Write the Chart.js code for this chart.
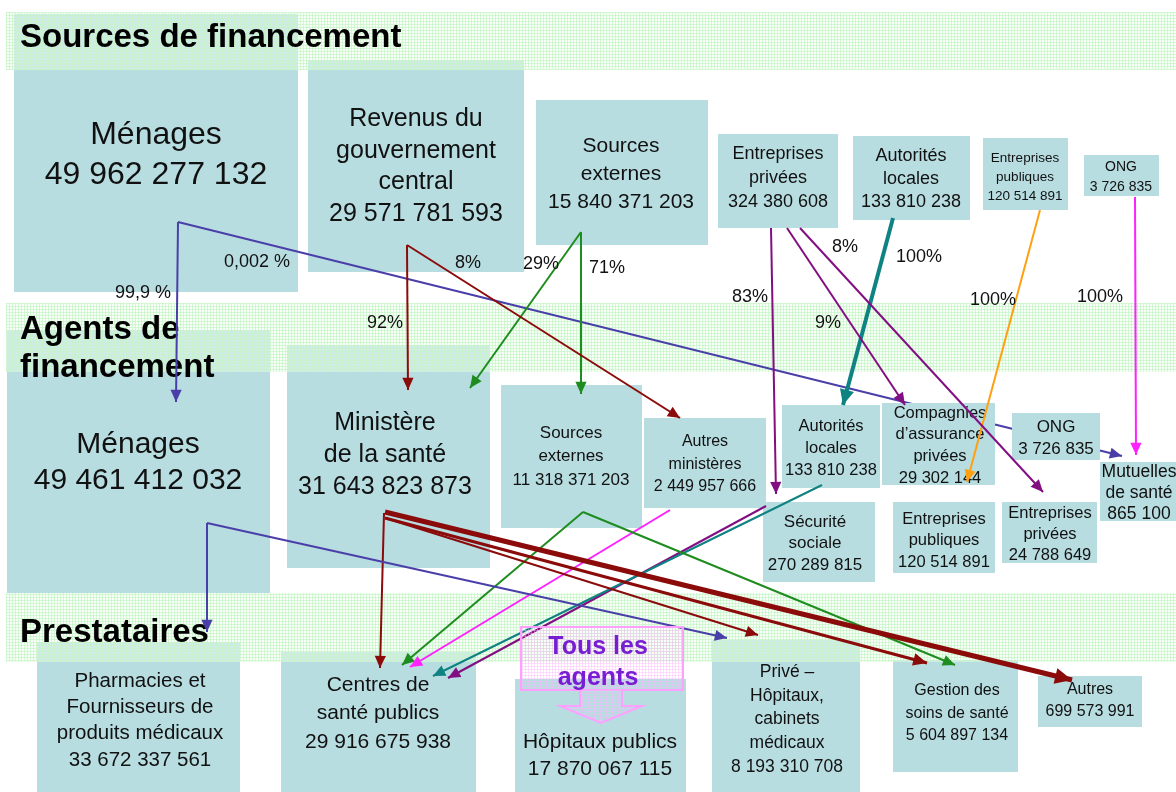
<!DOCTYPE html>
<html>
<head>
<meta charset="utf-8">
<script src="https://cdn.jsdelivr.net/npm/chart.js@4.4.1/dist/chart.umd.min.js"></script>
<style>
html, body { margin: 0; padding: 0; background: #fff; }
#wrap { width: 1176px; height: 792px; position: relative; }
</style>
</head>
<body>
<div id="wrap"><canvas id="flowChart"></canvas></div>
<script>
// Sources de financement
var sourceIds = ['menSrc', 'gov', 'extSrc', 'entPrivSrc', 'autLocSrc', 'entPubSrc', 'ongSrc'];
var sourceNames = [['Ménages'], ['Revenus du', 'gouvernement', 'central'], ['Sources', 'externes'],
  ['Entreprises', 'privées'], ['Autorités', 'locales'], ['Entreprises', 'publiques'], ['ONG']];
var sourceValues = [49962277132, 29571781593, 15840371203, 324380608, 133810238, 120514891, 3726835];

// Agents de financement
var agentIds = ['menAg', 'minSante', 'extAg', 'autMin', 'autLocAg', 'secSoc', 'compAss', 'ongAg', 'mutuelles', 'entPubAg', 'entPrivAg'];
var agentNames = [['Ménages'], ['Ministère', 'de la santé'], ['Sources', 'externes'], ['Autres', 'ministères'],
  ['Autorités', 'locales'], ['Sécurité', 'sociale'], ['Compagnies', 'd’assurance', 'privées'], ['ONG'],
  ['Mutuelles', 'de santé'], ['Entreprises', 'publiques'], ['Entreprises', 'privées']];
var agentValues = [49461412032, 31643823873, 11318371203, 2449957666, 133810238, 270289815, 29302144, 3726835, 865100, 120514891, 24788649];

// Prestataires
var providerIds = ['pharm', 'centres', 'hopPub', 'prive', 'gestion', 'autres'];
var providerNames = [['Pharmacies et', 'Fournisseurs de', 'produits médicaux'], ['Centres de', 'santé publics'],
  ['Hôpitaux publics'], ['Privé –', 'Hôpitaux,', 'cabinets', 'médicaux'], ['Gestion des', 'soins de santé'], ['Autres']];
var providerValues = [33672337561, 29916675938, 17870067115, 8193310708, 5604897134, 699573991];

// Flux
var flowFrom = ['menSrc', 'menSrc', 'gov', 'gov', 'extSrc', 'extSrc', 'entPrivSrc', 'entPrivSrc', 'entPrivSrc', 'autLocSrc', 'entPubSrc', 'ongSrc',
  'menAg', 'menAg', 'minSante', 'minSante', 'minSante', 'minSante', 'extAg', 'extAg', 'autMin', 'autLocAg', 'secSoc'];
var flowTo = ['menAg', 'mutuelles', 'minSante', 'autMin', 'minSante', 'extAg', 'secSoc', 'compAss', 'entPrivAg', 'autLocAg', 'entPubAg', 'mutuelles',
  'pharm', 'prive', 'centres', 'prive', 'gestion', 'autres', 'centres', 'gestion', 'centres', 'centres', 'centres'];
var flowLabels = ['99,9 %', '0,002 %', '92%', '8%', '29%', '71%', '83%', '9%', '8%', '100%', '100%', '100%',
  '', '', '', '', '', '', '', '', '', '', ''];

var rowTitles = [['Sources de financement'], ['Agents de', 'financement'], ['Prestataires']];
var allAgentsNote = ['Tous les', 'agents'];

// ---- mise en page ----
// box: x0, y0, x1, y1, text centre x, first line y, line height, font size
var nodeLayout = {
  menSrc:     [14, 14, 298, 292, 156, 135, 40, 32],
  gov:        [308, 60, 524, 272, 416, 119, 31.7, 25],
  extSrc:     [536, 100, 708, 245, 621, 146, 28, 21],
  entPrivSrc: [718, 134, 838, 228, 778, 154, 24, 18],
  autLocSrc:  [853, 136, 970, 220, 911, 156, 23, 18],
  entPubSrc:  [983, 138, 1068, 210, 1025, 158, 19, 13.5],
  ongSrc:     [1084, 155, 1159, 196, 1121, 167, 20, 14],
  menAg:      [7, 330, 270, 593, 138, 445, 36, 30],
  minSante:   [287, 345, 490, 568, 385, 423, 32, 25],
  extAg:      [501, 385, 642, 528, 571, 433, 23.5, 17],
  autMin:     [644, 418, 766, 508, 705, 442, 22.5, 16],
  autLocAg:   [782, 405, 880, 488, 831, 426, 22, 16.5],
  secSoc:     [763, 502, 875, 582, 815, 522, 21.5, 17],
  compAss:    [882, 403, 995, 485, 940, 413, 21.7, 16.5],
  ongAg:      [1012, 413, 1100, 460, 1056, 427, 22, 17],
  mutuelles:  [1100, 462, 1190, 521, 1139, 472, 21, 17.5],
  entPubAg:   [893, 502, 995, 573, 944, 519, 21.5, 16.5],
  entPrivAg:  [1002, 502, 1097, 563, 1050, 513, 21, 16.5],
  pharm:      [37, 642, 240, 792, 140, 681, 26.3, 20.5],
  centres:    [281, 652, 476, 792, 378, 685, 28.5, 21],
  hopPub:     [515, 679, 686, 792, 600, 742, 27, 21],
  prive:      [712, 640, 860, 792, 787, 672, 23.8, 17.5],
  gestion:    [893, 660, 1018, 772, 957, 691, 22.5, 16],
  autres:     [1038, 676, 1142, 727, 1090, 690, 22, 16]
};
// nodes drawn over the 0,002 % line
var lateNodes = ['compAss', 'ongAg'];

// x1, y1, tip x, tip y
var flowPaths = [
  [178, 222, 176, 402], [178, 222, 1122, 456], [407, 245, 408, 390], [407, 245, 680, 418],
  [581, 232, 470, 388], [581, 232, 581, 394], [771, 228, 776, 494], [787, 228, 905, 405],
  [800, 228, 1043, 492], [893, 218, 843, 405], [1040, 210, 967, 482], [1135, 197, 1136, 455],
  [207, 523, 207, 632], [207, 523, 727, 638], [384, 513, 380, 668], [385, 518, 758, 635],
  [385, 518, 927, 663], [385, 512, 1072, 680], [583, 512, 402, 665], [583, 512, 955, 665],
  [670, 510, 410, 667], [822, 485, 433, 676], [766, 506, 448, 678]
];
var flowColors = ['#4a3fa8', '#4a3fa8', '#8b0a0a', '#8b0a0a', '#1e8c1e', '#1e8c1e', '#820f82', '#820f82',
  '#820f82', '#0f8282', '#ffa010', '#ff22ff', '#4a3fa8', '#4a3fa8', '#8b0a0a', '#8b0a0a',
  '#8b0a0a', '#8b0a0a', '#1e8c1e', '#1e8c1e', '#ff22ff', '#0f8282', '#820f82'];
var flowWidths = [2, 2, 2, 2, 2, 2, 2, 2, 2, 4, 2, 2, 2, 2, 2, 2, 3, 5, 2, 2, 2, 2, 2];
var labelPos = [[143, 293], [257, 262], [385, 323], [468, 263], [541, 264], [607, 268], [750, 297],
  [828, 323], [845, 247], [919, 257], [993, 300], [1100, 297]];

var bands = [[6, 12, 1176, 70], [6, 303, 1176, 372], [6, 593, 1176, 662]];
var titlePos = [[20, 38, 38], [20, 330, 38], [20, 633, 38]];

var FONT = '"Liberation Sans", Arial, sans-serif';
var BOX = '#b8dde1';

function fmt(n) {
  return String(n).replace(/\B(?=(\d{3})+(?!\d))/g, ' ');
}

var nodeText = {};
sourceIds.forEach(function (id, i) { nodeText[id] = sourceNames[i].concat([fmt(sourceValues[i])]); });
agentIds.forEach(function (id, i) { nodeText[id] = agentNames[i].concat([fmt(agentValues[i])]); });
providerIds.forEach(function (id, i) { nodeText[id] = providerNames[i].concat([fmt(providerValues[i])]); });

function px(chart, v) { return chart.scales.x.getPixelForValue(v); }
function py(chart, v) { return chart.scales.y.getPixelForValue(v); }

function makePattern(ctx, col) {
  var c = document.createElement('canvas');
  c.width = 3; c.height = 3;
  var g = c.getContext('2d');
  g.fillStyle = col;
  g.fillRect(0, 0, 3, 1);
  g.fillRect(0, 0, 1, 3);
  return ctx.createPattern(c, 'repeat');
}

function drawBox(chart, id) {
  var L = nodeLayout[id], ctx = chart.ctx;
  var x0 = px(chart, L[0]), y0 = py(chart, L[1]);
  ctx.fillStyle = BOX;
  ctx.fillRect(x0, y0, px(chart, L[2]) - x0, py(chart, L[3]) - y0);
}

function drawText(chart, id) {
  var L = nodeLayout[id], ctx = chart.ctx;
  ctx.fillStyle = '#111';
  ctx.font = L[7] + 'px ' + FONT;
  ctx.textAlign = 'center';
  ctx.textBaseline = 'middle';
  nodeText[id].forEach(function (t, k) {
    ctx.fillText(t, px(chart, L[4]), py(chart, L[5] + k * L[6]));
  });
}

function arrowHead(ctx, x1, y1, x2, y2, w, col) {
  var a = Math.atan2(y2 - y1, x2 - x1);
  var len = 9 + w * 1.6, half = 4 + w * 0.8;
  ctx.fillStyle = col;
  ctx.beginPath();
  ctx.moveTo(x2, y2);
  ctx.lineTo(x2 - len * Math.cos(a) + half * Math.sin(a), y2 - len * Math.sin(a) - half * Math.cos(a));
  ctx.lineTo(x2 - len * Math.cos(a) - half * Math.sin(a), y2 - len * Math.sin(a) + half * Math.cos(a));
  ctx.closePath();
  ctx.fill();
}

var underIndex = 1;

var diagramPlugin = {
  id: 'diagram',
  beforeDatasetsDraw: function (chart) {
    var ctx = chart.ctx;
    ctx.save();
    Object.keys(nodeLayout).forEach(function (id) {
      if (lateNodes.indexOf(id) < 0) drawBox(chart, id);
    });
    var pat = makePattern(ctx, 'rgba(196, 244, 196, 0.7)');
    bands.forEach(function (b) {
      var x0 = px(chart, b[0]), y0 = py(chart, b[1]);
      var w = px(chart, b[2]) - x0, h = py(chart, b[3]) - y0;
      ctx.fillStyle = 'rgba(240, 253, 240, 0.45)';
      ctx.fillRect(x0, y0, w, h);
      ctx.fillStyle = pat;
      ctx.fillRect(x0, y0, w, h);
    });
    Object.keys(nodeLayout).forEach(function (id) {
      if (lateNodes.indexOf(id) < 0) drawText(chart, id);
    });
    ctx.fillStyle = '#000';
    ctx.font = 'bold 33px ' + FONT;
    ctx.textAlign = 'left';
    ctx.textBaseline = 'middle';
    rowTitles.forEach(function (lines, i) {
      var p = titlePos[i];
      lines.forEach(function (t, k) {
        ctx.fillText(t, px(chart, p[0]), py(chart, p[1] + k * p[2]));
      });
    });
    ctx.restore();
  },
  afterDatasetDraw: function (chart, args) {
    if (args.index !== underIndex) return;
    chart.ctx.save();
    lateNodes.forEach(function (id) { drawBox(chart, id); drawText(chart, id); });
    chart.ctx.restore();
  },
  afterDatasetsDraw: function (chart) {
    var ctx = chart.ctx;
    ctx.save();
    flowPaths.forEach(function (p, i) {
      arrowHead(ctx, px(chart, p[0]), py(chart, p[1]), px(chart, p[2]), py(chart, p[3]), flowWidths[i], flowColors[i]);
    });
    ctx.fillStyle = '#111';
    ctx.font = '18px ' + FONT;
    ctx.textAlign = 'center';
    ctx.textBaseline = 'middle';
    flowLabels.forEach(function (t, i) {
      if (t) ctx.fillText(t, px(chart, labelPos[i][0]), py(chart, labelPos[i][1]));
    });

    // Tous les agents
    ctx.fillStyle = makePattern(ctx, 'rgba(255, 180, 255, 0.4)');
    ctx.strokeStyle = '#ffa0ff';
    ctx.lineWidth = 2;
    var bx = px(chart, 521), by = py(chart, 627);
    ctx.fillRect(bx, by, px(chart, 683) - bx, py(chart, 690) - by);
    ctx.strokeRect(bx, by, px(chart, 683) - bx, py(chart, 690) - by);
    ctx.beginPath();
    ctx.moveTo(px(chart, 580), py(chart, 690));
    ctx.lineTo(px(chart, 580), py(chart, 706));
    ctx.lineTo(px(chart, 560), py(chart, 706));
    ctx.lineTo(px(chart, 601), py(chart, 723));
    ctx.lineTo(px(chart, 642), py(chart, 706));
    ctx.lineTo(px(chart, 622), py(chart, 706));
    ctx.lineTo(px(chart, 622), py(chart, 690));
    ctx.fill();
    ctx.stroke();
    ctx.fillStyle = '#781ed2';
    ctx.font = 'bold 25px ' + FONT;
    allAgentsNote.forEach(function (t, k) {
      ctx.fillText(t, px(chart, 598), py(chart, 647 + k * 31));
    });
    ctx.restore();
  }
};

var datasets = flowPaths.map(function (p, i) {
  return {
    label: flowFrom[i] + ' → ' + flowTo[i],
    data: [{ x: p[0], y: p[1] }, { x: p[2], y: p[3] }],
    showLine: true,
    borderColor: flowColors[i],
    borderWidth: flowWidths[i],
    pointRadius: 0,
    fill: false,
    order: i === underIndex ? 1 : 0
  };
});

var ctx = document.getElementById('flowChart');
var myChart = new Chart(ctx, {
  type: 'scatter',
  data: { datasets: datasets },
  options: {
    responsive: true,
    maintainAspectRatio: false,
    animation: false,
    events: [],
    layout: { padding: 0 },
    scales: {
      x: { type: 'linear', min: 0, max: 1176, display: false },
      y: { type: 'linear', min: 0, max: 792, reverse: true, display: false }
    },
    plugins: { legend: { display: false }, tooltip: { enabled: false } }
  },
  plugins: [diagramPlugin]
});
</script>
</body>
</html>
